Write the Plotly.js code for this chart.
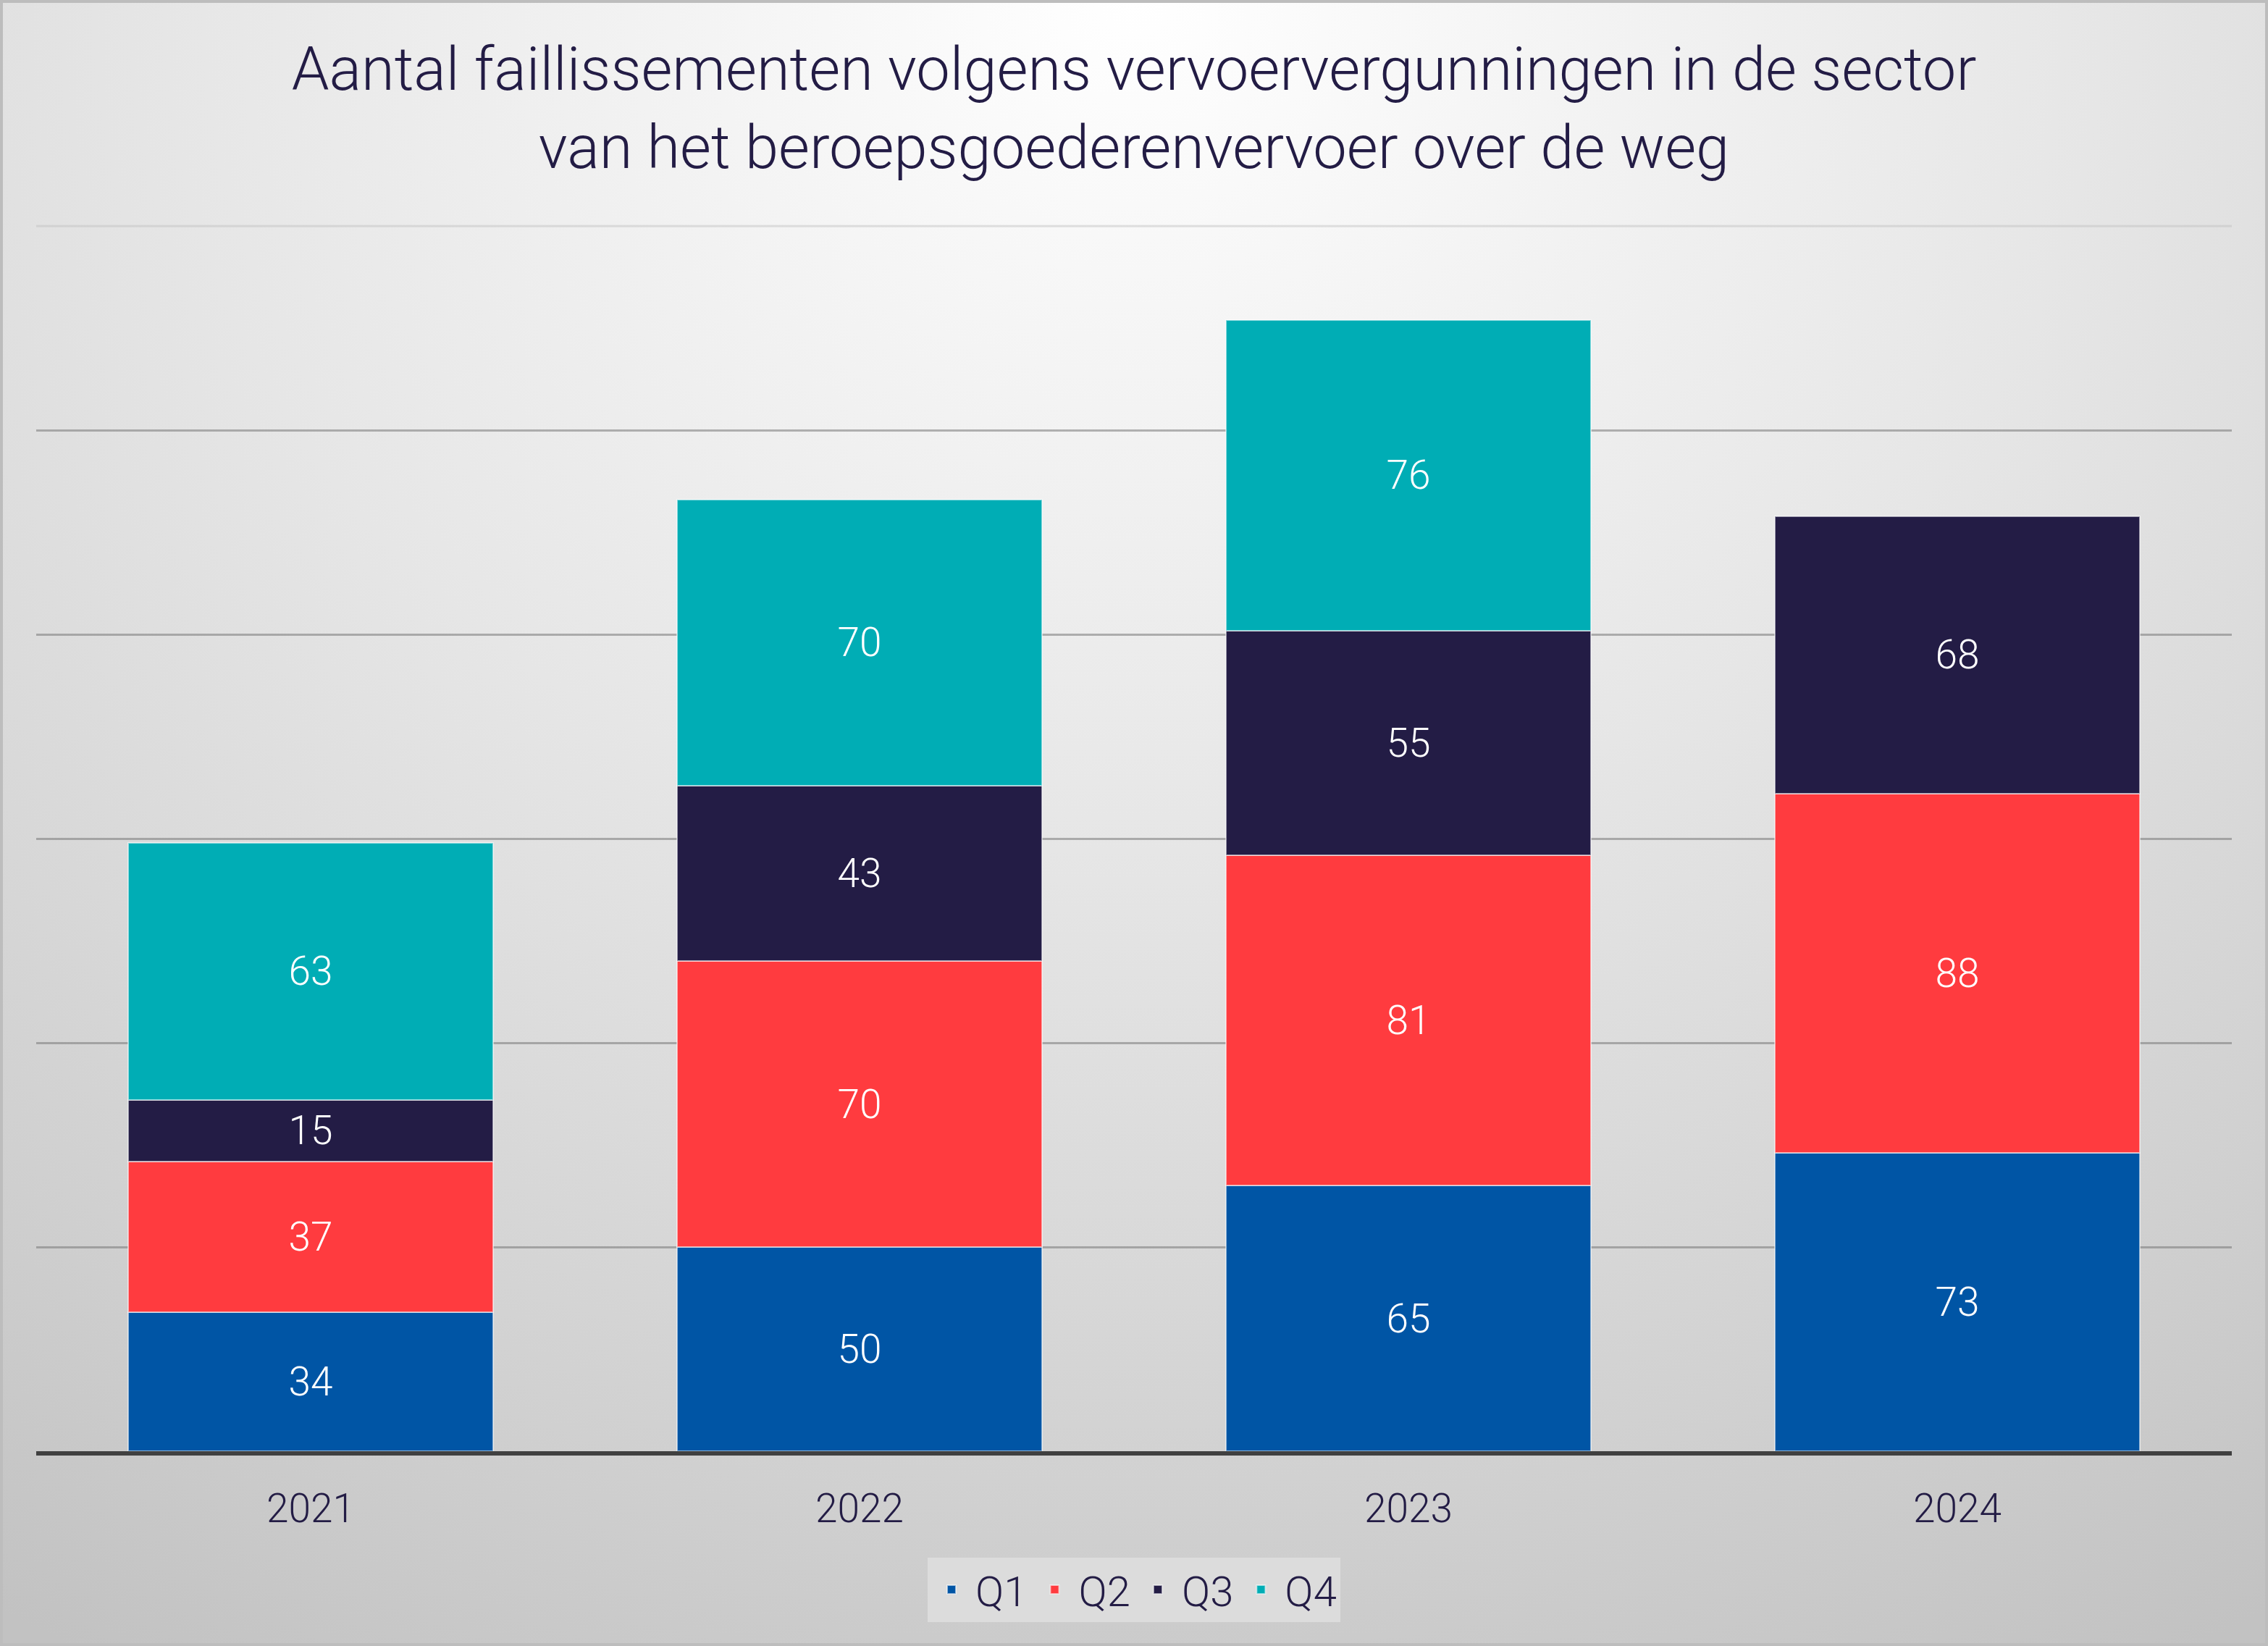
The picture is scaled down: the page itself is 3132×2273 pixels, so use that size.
<!DOCTYPE html>
<html>
<head>
<meta charset="utf-8">
<script src="https://cdn.plot.ly/plotly-3.0.1.min.js"></script>
<style>
  html, body { margin: 0; padding: 0; }
  body { width: 3132px; height: 2273px; overflow: hidden; position: relative;
    background: radial-gradient(ellipse 95% 115% at 50% 0%, #ffffff 0%, #e6e6e6 45%, #d0d0d0 80%, #c2c2c2 100%); }
  #chart { position: absolute; left: 0; top: 0; width: 3132px; height: 2273px; }
  #frame { position: absolute; left: 0; top: 0; width: 3132px; height: 2273px; box-sizing: border-box;
    border: 4px solid #bdbdbd; pointer-events: none; }
</style>
</head>
<body>
<div id="chart"></div>
<div id="frame"></div>
<script>
const years = ['2021', '2022', '2023', '2024'];
const q1 = [34, 50, 65, 73];
const q2 = [37, 70, 81, 88];
const q3 = [15, 43, 55, 68];
const q4 = [63, 70, 76, null];
const seriesNames = ['Q1', 'Q2', 'Q3', 'Q4'];
const seriesColors = ['#0055A5', '#FF3B3F', '#231C45', '#00ADB5'];
const gridTicks = [0, 50, 100, 150, 200, 250];
const topGrid = 300;

const FONT = 'Roboto, "Noto Sans", sans-serif';
const TEXTC = '#231C45';
const values = [q1, q2, q3, q4];

const traces = values.map((v, i) => ({
  type: 'bar',
  name: seriesNames[i],
  x: years,
  y: v,
  marker: { color: seriesColors[i], line: { color: 'rgba(255,255,255,0.55)', width: 2 } },
  texttemplate: '%{y}',
  textposition: 'inside',
  insidetextanchor: 'middle',
  constraintext: 'none',
  textfont: { family: FONT, size: 55, color: '#ffffff', weight: 300 },
  hoverinfo: 'skip'
}));

const layout = {
  width: 3132,
  height: 2273,
  paper_bgcolor: 'rgba(0,0,0,0)',
  plot_bgcolor: 'rgba(0,0,0,0)',
  barmode: 'stack',
  bargap: 0.335,
  margin: { l: 50, r: 50, t: 310, b: 269, pad: 0 },
  font: { family: FONT, color: TEXTC, weight: 300 },
  title: {
    text: 'Aantal faillissementen volgens vervoervergunningen in de sector<br>van het beroepsgoederenvervoer over de weg',
    font: { family: FONT, size: 83, color: TEXTC, weight: 300 },
    x: 0.5, xanchor: 'center', xref: 'paper',
    y: 1 - 124 / 2273, yanchor: 'middle', yref: 'container'
  },
  xaxis: {
    type: 'category',
    showline: true, linecolor: '#404040', linewidth: 6,
    ticks: '', showgrid: false,
    tickfont: { family: FONT, size: 55, color: TEXTC, weight: 300 },
    ticklabelstandoff: 26
  },
  yaxis: {
    range: [0, 300.4],
    tickvals: gridTicks,
    showticklabels: false,
    showgrid: true, gridcolor: 'rgba(120,120,120,0.55)', gridwidth: 3,
    zeroline: false, showline: false, ticks: ''
  },
  shapes: [{
    type: 'line', layer: 'below',
    xref: 'paper', x0: 0, x1: 1,
    yref: 'y', y0: topGrid, y1: topGrid,
    line: { color: 'rgba(190,190,190,0.45)', width: 3 }
  }],
  showlegend: true,
  legend: {
    orientation: 'h',
    x: 0.5, xanchor: 'center',
    y: -0.113, yanchor: 'middle',
    bgcolor: '#dcdcdc',
    traceorder: 'normal',
    font: { family: FONT, size: 58, color: TEXTC, weight: 300 },
    itemsizing: 'constant',
    itemwidth: 56
  }
};

Plotly.newPlot('chart', traces, layout, { staticPlot: true, displayModeBar: false });
</script>
</body>
</html>
